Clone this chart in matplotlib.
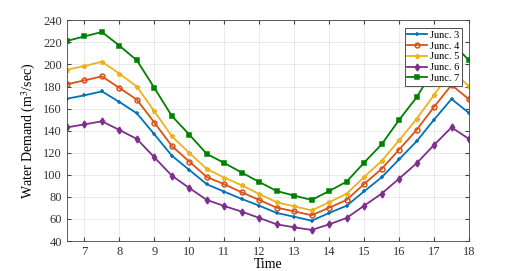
import matplotlib.pyplot as plt
import numpy as np

plt.rcParams['font.family'] = ['Liberation Serif', 'DejaVu Serif']
plt.rcParams['mathtext.fontset'] = 'stix'

time = np.arange(6.5, 18.01, 0.5)
junc3 = [169, 172, 175.6, 166, 155.7, 136.7, 117.3, 104.4, 91.4, 84.7, 78.1, 72,
         65.4, 62, 58.4, 65.4, 72, 85, 97.7, 114, 130.3, 150, 168.7, 156]
junc4 = [182, 185.6, 189.2, 178.7, 168.1, 147.3, 126.1, 111.9, 98, 91.4, 84.1, 77.2,
         70.2, 66.9, 63.3, 70.2, 77.2, 91.7, 105.3, 122.8, 140.6, 161.5, 181.4, 168.4]
junc5 = [195.3, 198.6, 202.5, 191.7, 179.9, 157.5, 134.9, 119.8, 105.3, 97.4, 90.5, 82.6,
         75.1, 71.4, 67.8, 75.1, 82.9, 98, 112.5, 131.2, 150.6, 172.3, 194.5, 180.2]
junc6 = [143, 145.7, 148.5, 140.6, 132.5, 115.8, 99.2, 88, 77.2, 71.7, 66.6, 60.9,
         55.1, 52.4, 50, 55.1, 60.9, 72, 82.9, 96.5, 110.4, 127, 143, 132.5]
junc7 = [221.3, 225.5, 229.4, 217, 203.7, 178.7, 153.3, 136.4, 118.9, 110.7, 102, 93.5,
         85.3, 81.1, 77.2, 85.3, 93.8, 111, 127.6, 149.7, 170.2, 196, 220, 203.7]

series = [(junc3, 'Junc. 3', '#0072BD', '+'),
          (junc4, 'Junc. 4', '#D95319', 'o'),
          (junc5, 'Junc. 5', '#EDB120', '*'),
          (junc6, 'Junc. 6', '#7E2F8E', 'd'),
          (junc7, 'Junc. 7', '#008000', 's')]

fig = plt.figure(figsize=(5.18, 2.71), dpi=100)
ax = fig.add_axes([0.1293, 0.1107, 0.7761, 0.8143])
for y, lab, c, m in series:
    ax.plot(time, y, color=c, marker=m, markersize=3.5, linewidth=1.3, label=lab,
            markerfacecolor='none' if m == 'o' else c, markeredgewidth=1.1)

ax.set_xlim(6.5, 18)
ax.set_ylim(40, 240)
ax.set_xticks(range(7, 19))
ax.set_yticks(range(40, 241, 20))
ax.grid(True, color='#e6e6e6', linewidth=0.6)
ax.tick_params(direction='in', top=True, right=True, labelsize=9, length=3,
               color='#444444', labelcolor='#333333')
for s in ax.spines.values():
    s.set_color('#444444')
    s.set_linewidth(0.6)
ax.set_xlabel('Time', fontsize=10, labelpad=0)
ax.set_ylabel('Water Demand (m$^3$/sec)', fontsize=10)
leg = ax.legend(loc='upper right', bbox_to_anchor=(0.983, 0.966), fontsize=7.5, fancybox=False,
                framealpha=1, edgecolor='#333333', borderpad=0.25, labelspacing=0.15,
                handlelength=1.9, handletextpad=0.3, borderaxespad=0)
leg.get_frame().set_linewidth(0.6)
fig.savefig('out.png', dpi=100)
